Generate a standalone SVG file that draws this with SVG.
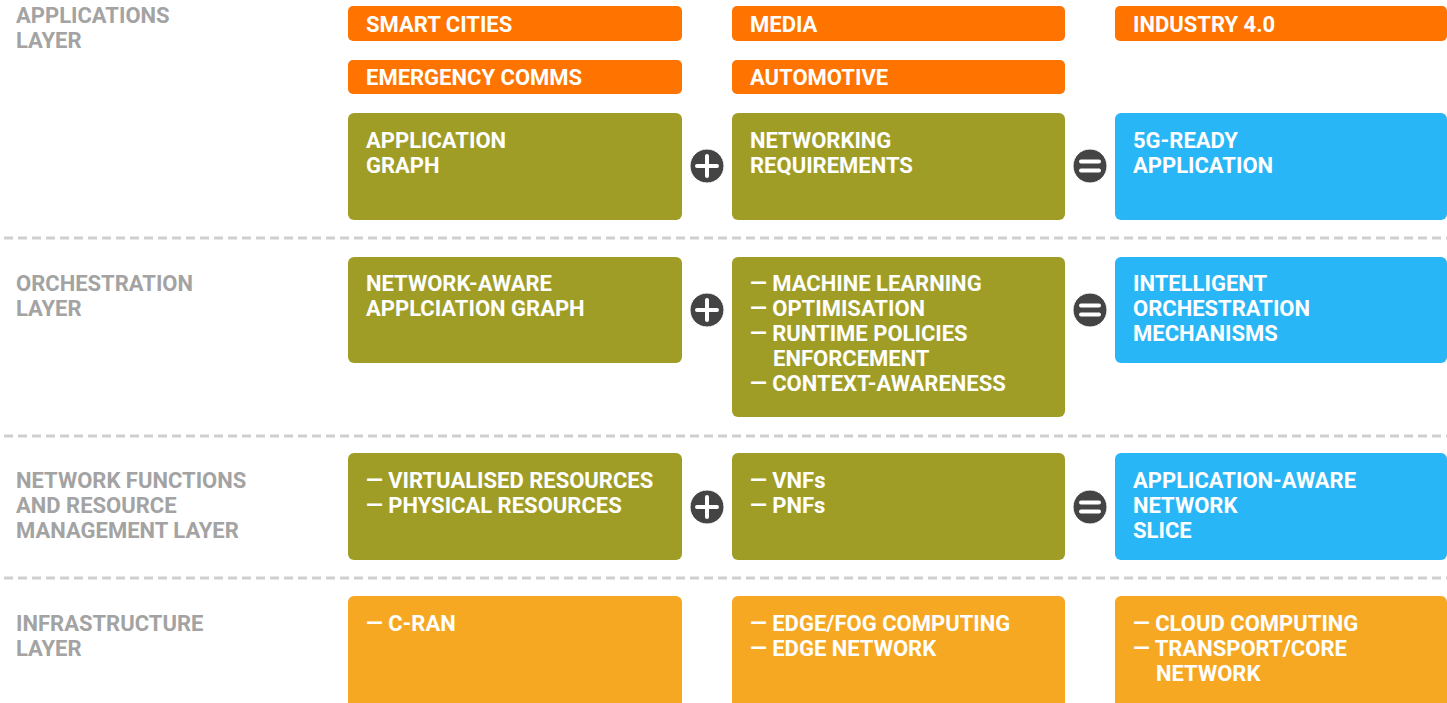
<svg xmlns="http://www.w3.org/2000/svg" width="1447" height="703" viewBox="0 0 1447 703">
<style>
.bg{fill:#ffffff}
.app{fill:#FF7300}
.olive{fill:#A09D27}
.blue{fill:#29B6F6}
.infra{fill:#F7A823}
.t{font-family:Roboto,"Liberation Sans",sans-serif;font-weight:700;font-size:22px;fill:#ffffff}
.lbl{font-family:Roboto,"Liberation Sans",sans-serif;font-weight:700;font-size:22px;fill:#a3a3a3}
.dash{stroke:#cfcfcf;stroke-width:3;stroke-dasharray:9 5;fill:none}
.op{fill:#444444;stroke:#ffffff;stroke-width:1}
.sym{stroke:#ffffff;stroke-width:4;stroke-linecap:round;fill:none}
</style>
<rect class="bg" x="0" y="0" width="1447" height="703"/>
<g id="separators">
<line class="dash" x1="4" y1="238" x2="1447" y2="238"/>
<line class="dash" x1="4" y1="436" x2="1447" y2="436"/>
<line class="dash" x1="4" y1="578" x2="1447" y2="578"/>
</g>
<g id="layer-labels">
<text class="lbl" x="16" y="23">APPLICATIONS</text>
<text class="lbl" x="16" y="48">LAYER</text>
<text class="lbl" x="16" y="291">ORCHESTRATION</text>
<text class="lbl" x="16" y="316">LAYER</text>
<text class="lbl" x="16" y="488">NETWORK FUNCTIONS</text>
<text class="lbl" x="16" y="513">AND RESOURCE</text>
<text class="lbl" x="16" y="538">MANAGEMENT LAYER</text>
<text class="lbl" x="16" y="631">INFRASTRUCTURE</text>
<text class="lbl" x="16" y="656">LAYER</text>
</g>
<g id="smart-cities"><rect class="app" x="348" y="6" width="334" height="35" rx="5"/><text class="t" x="366" y="32">SMART CITIES</text></g>
<g id="media"><rect class="app" x="732" y="6" width="333" height="35" rx="5"/><text class="t" x="750" y="32">MEDIA</text></g>
<g id="industry"><rect class="app" x="1115" y="6" width="332" height="35" rx="5"/><text class="t" x="1133" y="32">INDUSTRY 4.0</text></g>
<g id="emergency"><rect class="app" x="348" y="60" width="334" height="34" rx="5"/><text class="t" x="366" y="85">EMERGENCY COMMS</text></g>
<g id="automotive"><rect class="app" x="732" y="60" width="333" height="34" rx="5"/><text class="t" x="750" y="85">AUTOMOTIVE</text></g>

<g id="app-graph"><rect class="olive" x="348" y="113" width="334" height="107" rx="6"/><text class="t" x="366" y="148">APPLICATION</text><text class="t" x="366" y="173">GRAPH</text></g>
<g id="net-req"><rect class="olive" x="732" y="113" width="333" height="107" rx="6"/><text class="t" x="750" y="148">NETWORKING</text><text class="t" x="750" y="173">REQUIREMENTS</text></g>
<g id="ready-app"><rect class="blue" x="1115" y="113" width="332" height="107" rx="6"/><text class="t" x="1133" y="148">5G-READY</text><text class="t" x="1133" y="173">APPLICATION</text></g>

<g id="na-graph"><rect class="olive" x="348" y="257" width="334" height="106" rx="6"/><text class="t" x="366" y="291">NETWORK-AWARE</text><text class="t" x="366" y="316">APPLCIATION GRAPH</text></g>
<g id="ml"><rect class="olive" x="732" y="257" width="333" height="160" rx="6"/><text class="t" x="750" y="291">— MACHINE LEARNING</text><text class="t" x="750" y="316">— OPTIMISATION</text><text class="t" x="750" y="341">— RUNTIME POLICIES</text><text class="t" x="773" y="366">ENFORCEMENT</text><text class="t" x="750" y="391">— CONTEXT-AWARENESS</text></g>
<g id="orch"><rect class="blue" x="1115" y="257" width="332" height="106" rx="6"/><text class="t" x="1133" y="291">INTELLIGENT</text><text class="t" x="1133" y="316">ORCHESTRATION</text><text class="t" x="1133" y="341">MECHANISMS</text></g>

<g id="resources"><rect class="olive" x="348" y="453" width="334" height="107" rx="6"/><text class="t" x="366" y="488">— VIRTUALISED RESOURCES</text><text class="t" x="366" y="513">— PHYSICAL RESOURCES</text></g>
<g id="vnfs"><rect class="olive" x="732" y="453" width="333" height="107" rx="6"/><text class="t" x="750" y="488">— VNFs</text><text class="t" x="750" y="513">— PNFs</text></g>
<g id="slice"><rect class="blue" x="1115" y="453" width="332" height="107" rx="6"/><text class="t" x="1133" y="488">APPLICATION-AWARE</text><text class="t" x="1133" y="513">NETWORK</text><text class="t" x="1133" y="538">SLICE</text></g>

<g id="cran"><rect class="infra" x="348" y="596" width="334" height="112" rx="6"/><text class="t" x="366" y="631">— C-RAN</text></g>
<g id="edge"><rect class="infra" x="732" y="596" width="333" height="112" rx="6"/><text class="t" x="750" y="631">— EDGE/FOG COMPUTING</text><text class="t" x="750" y="656">— EDGE NETWORK</text></g>
<g id="cloud"><rect class="infra" x="1115" y="596" width="332" height="112" rx="6"/><text class="t" x="1133" y="631">— CLOUD COMPUTING</text><text class="t" x="1133" y="656">— TRANSPORT/CORE</text><text class="t" x="1156" y="681">NETWORK</text></g>

<g id="operators">
<circle class="op" cx="707" cy="166" r="17"/><path class="sym" d="M697 166H717M707 156V176"/>
<circle class="op" cx="1090" cy="166" r="17"/><path class="sym" d="M1081 161.5H1099M1081 170.5H1099"/>
<circle class="op" cx="707" cy="310" r="17"/><path class="sym" d="M697 310H717M707 300V320"/>
<circle class="op" cx="1090" cy="310" r="17"/><path class="sym" d="M1081 305.5H1099M1081 314.5H1099"/>
<circle class="op" cx="707" cy="507" r="17"/><path class="sym" d="M697 507H717M707 497V517"/>
<circle class="op" cx="1090" cy="507" r="17"/><path class="sym" d="M1081 502.5H1099M1081 511.5H1099"/>
</g>
</svg>
